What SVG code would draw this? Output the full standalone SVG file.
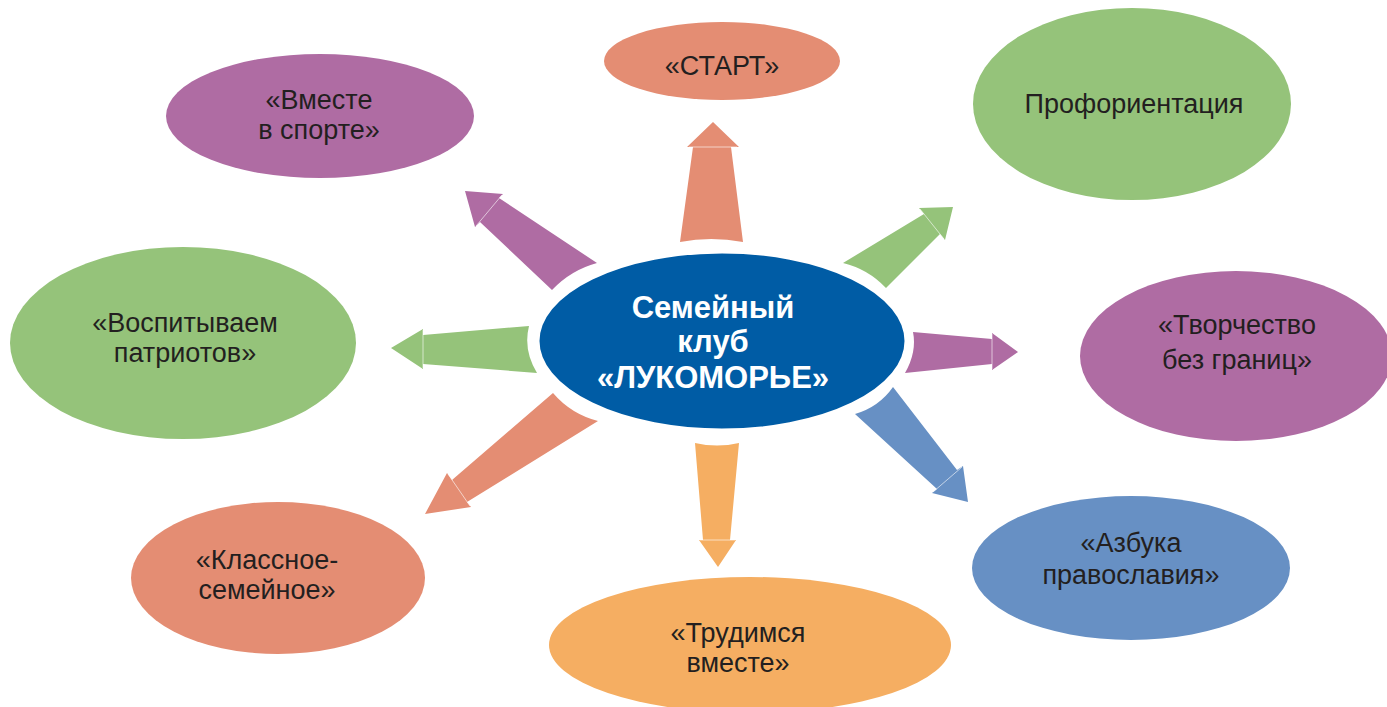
<svg xmlns="http://www.w3.org/2000/svg" width="1387" height="707" viewBox="0 0 1387 707">
<style>
.t{font-family:"Liberation Sans",Arial,sans-serif;font-size:27px;fill:#231F20;text-anchor:middle}
.c{font-family:"Liberation Sans",Arial,sans-serif;font-size:31px;font-weight:bold;fill:#FFFFFF;text-anchor:middle}
.seam{stroke:#FFFFFF;stroke-width:1;stroke-opacity:0.6}
.salmon{fill:#E48D73}.green{fill:#95C37A}.purple{fill:#AF6CA3}.blue{fill:#6790C4}.orange{fill:#F5AE62}
</style>
<rect width="1387" height="707" fill="#FFFFFF"/>
<g id="connectors">
<path class="salmon" d="M680,242 L693,147 L687,147 L713,122 L739,147 L731,147 L743,242 Q711,236 680,242 Z"/>
<line class="seam" x1="689" y1="147" x2="737" y2="147"/>
<path class="green" d="M843,263 L924,214 L919,208 L953,207 L945,240 L940,234 L886,288 Q868,269 843,263 Z"/>
<line class="seam" x1="920" y1="209" x2="944" y2="239"/>
<path class="purple" d="M913,332 L992,339 L992,333 L1018,352 L992,370 L992,364 L905,373 Q917,352 913,332 Z"/>
<line class="seam" x1="992" y1="334" x2="992" y2="369"/>
<path class="blue" d="M893,387 L957,470 L963,466 L968,502 L932,493 L937,489 L855,414 Q879,407 893,387 Z"/>
<line class="seam" x1="962" y1="467" x2="933" y2="492"/>
<path class="orange" d="M695,443 L703,540 L699,540 L718,567 L736,540 L730,540 L739,443 Q717,448 695,443 Z"/>
<line class="seam" x1="700" y1="540" x2="735" y2="540"/>
<path class="salmon" d="M553,393 L452,480 L447,473 L425,514 L471,507 L467,502 L598,421 Q571,414 553,393 Z"/>
<line class="seam" x1="448" y1="474" x2="470" y2="506"/>
<path class="green" d="M529,326 L423,335 L423,329 L391,348 L423,369 L423,364 L537,373 Q523,350 529,326 Z"/>
<line class="seam" x1="423" y1="330" x2="423" y2="368"/>
<path class="purple" d="M597,263 L499,198 L503,194 L465,191 L475,227 L480,222 L552,290 Q571,270 597,263 Z"/>
<line class="seam" x1="502" y1="195" x2="476" y2="226"/>
</g>
<g id="center">
<ellipse cx="722" cy="341" rx="184" ry="89" fill="#005CA5" stroke="#FFFFFF" stroke-width="3"/>
<text class="c" x="713" y="318">Семейный</text>
<text class="c" x="713" y="352">клуб</text>
<text class="c" x="713" y="388">«ЛУКОМОРЬЕ»</text>
</g>
<g id="start">
<ellipse class="salmon" cx="722" cy="61" rx="118" ry="39"/>
<text class="t" x="722" y="75">«СТАРТ»</text>
</g>
<g id="proforientation">
<ellipse class="green" cx="1132" cy="104" rx="159" ry="96"/>
<text class="t" x="1134" y="113">Профориентация</text>
</g>
<g id="creativity">
<ellipse class="purple" cx="1236" cy="356" rx="156" ry="85"/>
<text class="t" x="1237" y="334">«Творчество</text>
<text class="t" x="1237" y="369">без границ»</text>
</g>
<g id="orthodoxy">
<ellipse class="blue" cx="1131" cy="568" rx="159" ry="72"/>
<text class="t" x="1131" y="552">«Азбука</text>
<text class="t" x="1131" y="584">православия»</text>
</g>
<g id="work">
<ellipse class="orange" cx="750" cy="645" rx="201" ry="68"/>
<text class="t" x="738" y="642">«Трудимся</text>
<text class="t" x="738" y="672">вместе»</text>
</g>
<g id="class-family">
<ellipse class="salmon" cx="278" cy="578" rx="147" ry="76"/>
<text class="t" x="267" y="569">«Классное-</text>
<text class="t" x="267" y="599">семейное»</text>
</g>
<g id="patriots">
<ellipse class="green" cx="183" cy="343" rx="173" ry="96"/>
<text class="t" x="185" y="332">«Воспитываем</text>
<text class="t" x="185" y="362">патриотов»</text>
</g>
<g id="sport">
<ellipse class="purple" cx="320" cy="116" rx="154" ry="62"/>
<text class="t" x="319" y="109">«Вместе</text>
<text class="t" x="319" y="139">в спорте»</text>
</g>
</svg>
